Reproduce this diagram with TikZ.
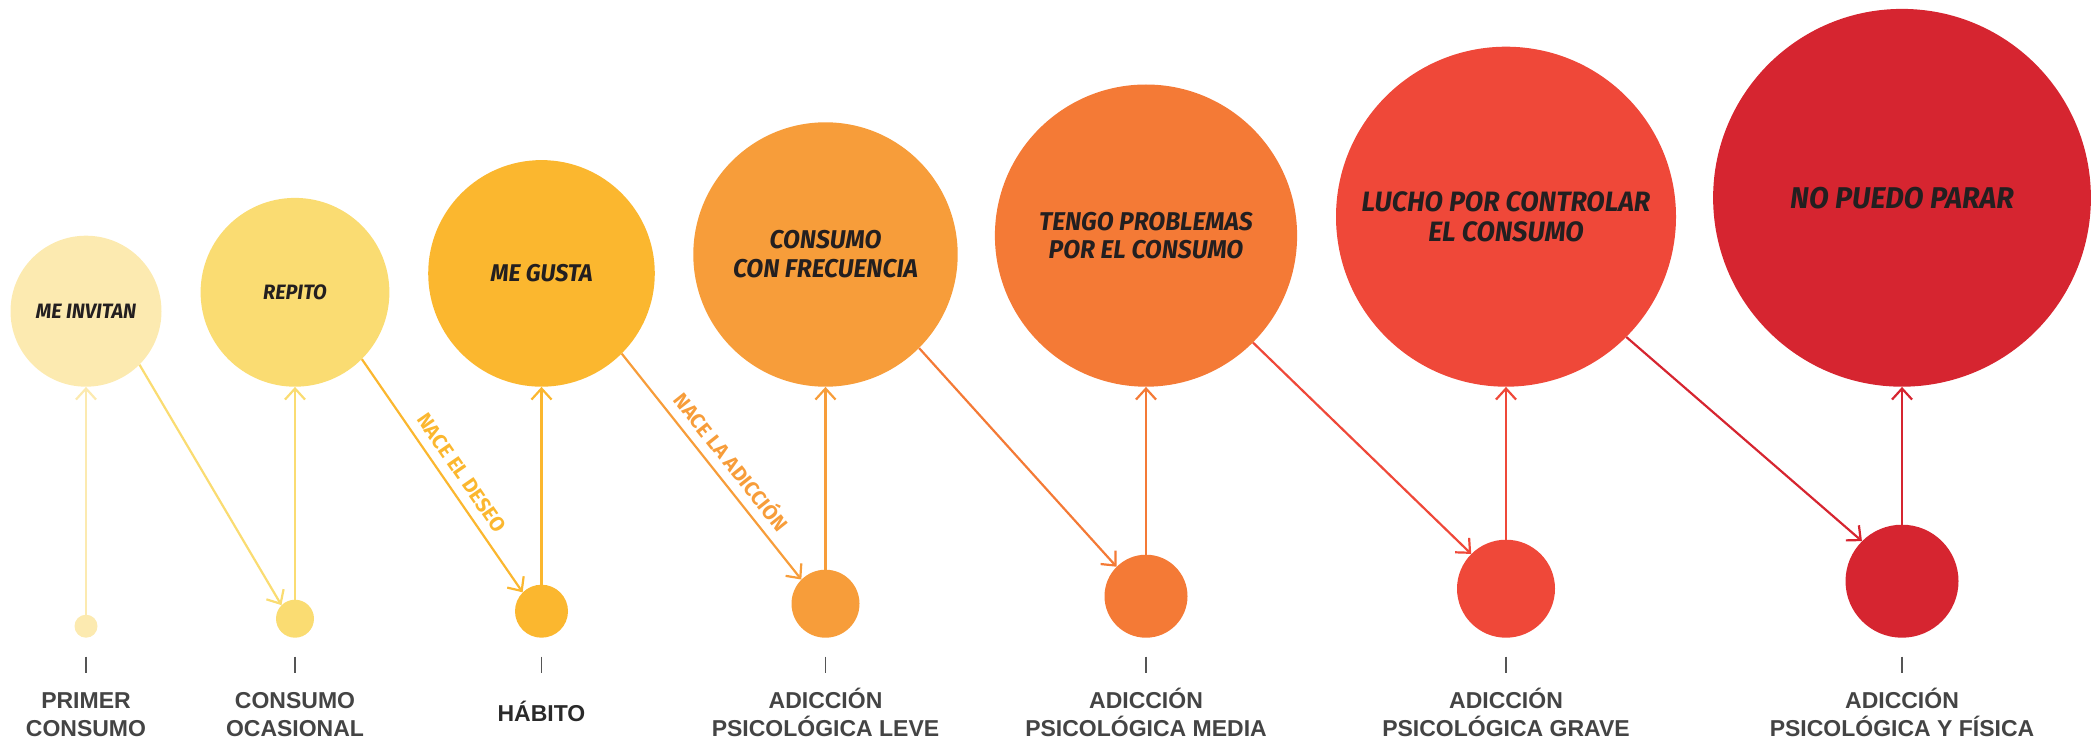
\documentclass[tikz,border=0pt]{standalone}
\usepackage{fontspec}
\usetikzlibrary{arrows.meta}
\setmainfont{Fira Sans}
\newfontfamily\circfont{Fira Sans}[FakeStretch=0.96]
\newfontfamily\labfont{Liberation Sans}
\newfontfamily\arrfont{Fira Sans}
\definecolor{c1}{HTML}{FCEAB0}
\definecolor{c2}{HTML}{FADC72}
\definecolor{c3}{HTML}{FBB72F}
\definecolor{c4}{HTML}{F79D3A}
\definecolor{c5}{HTML}{F47A36}
\definecolor{c6}{HTML}{EF4839}
\definecolor{c7}{HTML}{D62530}
\definecolor{txt}{HTML}{231F20}
\definecolor{labc}{HTML}{444444}
\definecolor{labd}{HTML}{2A2A2A}
\definecolor{tickc}{HTML}{555555}
\begin{document}
\begin{tikzpicture}[x=1pt,y=-1pt,
  big/.style={circle, inner sep=0pt, minimum size=#1, align=center, text=txt},
  small/.style={circle, inner sep=0pt, minimum size=#1},
  arr/.style={line width=2.2pt, -{Straight Barb[length=11pt,width=20pt]}},
  stage/.style={font=\labfont\bfseries\fontsize{23}{28.4}\selectfont, text=labc, align=center, anchor=base, inner sep=0pt},
  tickmark/.style={line width=1.4pt, draw=tickc},
  arrlab/.style={font=\arrfont\bfseries\fontsize{20.5}{22}\selectfont, sloped, pos=0.53, above=9pt, inner sep=0pt}
]
\useasboundingbox (0,0) rectangle (2098,743);
% big circles
\node[big=151pt, fill=c1, font=\circfont\bfseries\itshape\fontsize{20.8}{24}\selectfont] (b1) at (86,311.2) {ME INVITAN};
\node[big=188.8pt, fill=c2, font=\circfont\bfseries\itshape\fontsize{20.8}{24}\selectfont] (b2) at (295,292.3) {REPITO};
\node[big=226.6pt, fill=c3, font=\circfont\bfseries\itshape\fontsize{24.2}{28}\selectfont] (b3) at (541.5,273.4) {ME GUSTA};
\node[big=264.4pt, fill=c4, font=\circfont\bfseries\itshape\fontsize{25.7}{29}\selectfont] (b4) at (825.5,254.5) {CONSUMO\\CON FRECUENCIA};
\node[big=302.2pt, fill=c5, font=\circfont\bfseries\itshape\fontsize{25.7}{28}\selectfont] (b5) at (1146,235.6) {TENGO PROBLEMAS\\POR EL CONSUMO};
\node[big=340pt, fill=c6, font=\circfont\bfseries\itshape\fontsize{28}{30}\selectfont] (b6) at (1506,216.7) {LUCHO POR CONTROLAR\\EL CONSUMO};
\node[big=377.8pt, fill=c7, font=\circfont\bfseries\itshape\fontsize{30}{32}\selectfont] (b7) at (1902,197.8) {NO PUEDO PARAR};
% small circles
\node[small=23pt, fill=c1] (s1) at (86,626.2) {};
\node[small=38pt, fill=c2] (s2) at (295,618.7) {};
\node[small=53pt, fill=c3] (s3) at (541.5,611.2) {};
\node[small=68pt, fill=c4] (s4) at (825.5,603.7) {};
\node[small=83pt, fill=c5] (s5) at (1146,596.2) {};
\node[small=98pt, fill=c6] (s6) at (1506,588.7) {};
\node[small=113pt, fill=c7] (s7) at (1902,581.2) {};
% vertical arrows
\draw[arr, c1] (s1.north) -- (b1.south);
\draw[arr, c2] (s2.north) -- (b2.south);
\draw[arr, c3] (s3.north) -- (b3.south);
\draw[arr, c4] (s4.north) -- (b4.south);
\draw[arr, c5] (s5.north) -- (b5.south);
\draw[arr, c6] (s6.north) -- (b6.south);
\draw[arr, c7] (s7.north) -- (b7.south);
% diagonal arrows
\draw[arr, c2] (b1.south east) -- (s2.north west);
\draw[arr, c3] (b2.south east) -- node[arrlab, text=c3] {NACE EL DESEO} (s3.north west);
\draw[arr, c4] (b3.south east) -- node[arrlab, text=c4] {NACE LA ADICCIÓN} (s4.north west);
\draw[arr, c5] (b4.south east) -- (s5.north west);
\draw[arr, c6] (b5.south east) -- (s6.north west);
\draw[arr, c7] (b6.south east) -- (s7.north west);
% ticks
\foreach \x in {86,295,541.5,825.5,1146,1506,1902}
  \draw[tickmark] (\x,656.7) -- (\x,673.3);
% stage labels
\node[stage] (l1) at (86,736.7) {PRIMER\\CONSUMO};
\node[stage] (l2) at (295,736.7) {CONSUMO\\OCASIONAL};
\node[stage, text=labd] (l3) at (541.5,721.7) {HÁBITO};
\node[stage] (l4) at (825.5,736.7) {ADICCIÓN\\PSICOLÓGICA LEVE};
\node[stage] (l5) at (1146,736.7) {ADICCIÓN\\PSICOLÓGICA MEDIA};
\node[stage] (l6) at (1506,736.7) {ADICCIÓN\\PSICOLÓGICA GRAVE};
\node[stage] (l7) at (1902,736.7) {ADICCIÓN\\PSICOLÓGICA Y FÍSICA};
\end{tikzpicture}
\end{document}
